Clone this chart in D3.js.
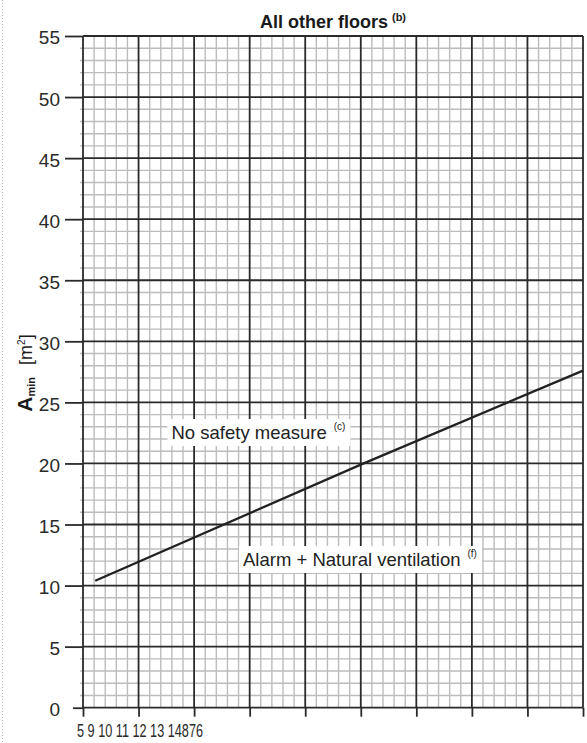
<!DOCTYPE html>
<html>
<head>
<meta charset="utf-8">
<script src="https://cdn.jsdelivr.net/npm/d3@7"></script>
<style>
  body { margin: 0; background: #fff; }
  svg { display: block; }
</style>
</head>
<body>
<div id="drawArea"></div>
<script>
// values
const yTicks = [0, 5, 10, 15, 20, 25, 30, 35, 40, 45, 50, 55];
const xMajor = [0, 5, 10, 15, 20, 25, 30, 35, 40, 45];
const xLabels = ['5', '9', '10', '11', '12', '13', '14876'];
const lineX = [1.1, 25, 45];
const lineY = [10.4, 19.9, 27.6];

const width = 587;
const height = 743;
const margin = { top: 36, left: 83, right: 4, bottom: 35.3 };
const innerW = width - margin.left - margin.right;
const innerH = height - margin.top - margin.bottom;

const svg = d3.select('#drawArea').append('svg')
  .attr('width', width)
  .attr('height', height);

// dotted edge on the left of the scan
svg.append('line')
  .attr('x1', 2.5).attr('x2', 2.5)
  .attr('y1', 0).attr('y2', height)
  .attr('stroke', '#bbb')
  .attr('stroke-dasharray', '1,2');

const g = svg.append('g')
  .attr('transform', `translate(${margin.left}, ${margin.top})`);

const x = d3.scaleLinear().domain([0, 45]).range([0, innerW]);
const y = d3.scaleLinear().domain([0, 55]).range([innerH, 0]);

const minorX = d3.range(0, 46).filter(d => d % 5 !== 0);
const minorY = d3.range(0, 56).filter(d => d % 5 !== 0);

g.append('g').selectAll('line')
  .data(minorX)
  .enter().append('line')
  .attr('x1', d => x(d)).attr('x2', d => x(d))
  .attr('y1', y(55)).attr('y2', y(0))
  .attr('stroke', '#bcbcbc')
  .attr('stroke-width', 1.4);

g.append('g').selectAll('line')
  .data(minorY)
  .enter().append('line')
  .attr('x1', -3).attr('x2', x(45))
  .attr('y1', d => y(d)).attr('y2', d => y(d))
  .attr('stroke', '#bcbcbc')
  .attr('stroke-width', 1.4);

g.append('g').selectAll('line')
  .data(xMajor)
  .enter().append('line')
  .attr('x1', d => x(d)).attr('x2', d => x(d))
  .attr('y1', y(55)).attr('y2', y(0))
  .attr('stroke', '#2a2a2a')
  .attr('stroke-width', 1.8);

g.append('g').selectAll('line')
  .data(yTicks)
  .enter().append('line')
  .attr('x1', 0).attr('x2', x(45))
  .attr('y1', d => y(d)).attr('y2', d => y(d))
  .attr('stroke', '#2a2a2a')
  .attr('stroke-width', 1.8);

// axes: ticks stick out of the grid
const yAxis = g.append('g')
  .call(d3.axisLeft(y).tickValues(yTicks).tickSize(18).tickPadding(5));
yAxis.select('.domain').remove();
yAxis.selectAll('.tick line')
  .attr('stroke', '#2a2a2a')
  .attr('stroke-width', 1.8)
  .attr('x2', d => d === 0 ? -10 : -18);
yAxis.selectAll('.tick text')
  .attr('fill', '#2a2a2a')
  .attr('font-family', '"Liberation Sans Narrow", "Arial Narrow", "Liberation Sans", sans-serif')
  .attr('font-size', 19)
  .attr('dy', '0.42em');

const xAxis = g.append('g')
  .attr('transform', `translate(0, ${innerH})`)
  .call(d3.axisBottom(x).tickValues(xMajor).tickSize(9).tickFormat(''));
xAxis.select('.domain').remove();
xAxis.selectAll('.tick line')
  .attr('stroke', '#2a2a2a')
  .attr('stroke-width', 1.8);

svg.append('text')
  .attr('x', 77)
  .attr('y', 737)
  .attr('textLength', 126)
  .attr('lengthAdjust', 'spacingAndGlyphs')
  .attr('fill', '#2a2a2a')
  .attr('font-family', '"Liberation Sans Narrow", "Arial Narrow", "Liberation Sans", sans-serif')
  .attr('font-size', 18)
  .text(xLabels.join(' '));

// the threshold line
const pts = lineX.map((d, i) => [d, lineY[i]]);
g.append('path')
  .datum(pts)
  .attr('fill', 'none')
  .attr('stroke', '#222')
  .attr('stroke-width', 2.3)
  .attr('d', d3.line().x(d => x(d[0])).y(d => y(d[1])));

// labels with white knock-out boxes
function label(tx, ty, main, sup) {
  const t = svg.append('text')
    .attr('x', tx).attr('y', ty)
    .attr('fill', '#222')
    .attr('font-family', '"Liberation Sans", Arial, sans-serif')
    .attr('font-size', 18.5);
  t.append('tspan').text(main);
  t.append('tspan').attr('font-size', 10).attr('dx', 7).attr('dy', -9).text(sup);
  const bb = t.node().getBBox();
  svg.insert('rect', () => t.node())
    .attr('x', bb.x - 4).attr('y', bb.y - 2)
    .attr('width', bb.width + 9).attr('height', bb.height + 5)
    .attr('fill', '#fff');
}
label(171.5, 439, 'No safety measure', '(c)');
label(243, 566, 'Alarm + Natural ventilation', '(f)');

// title
const title = svg.append('text')
  .attr('x', margin.left + innerW / 2)
  .attr('y', 28)
  .attr('text-anchor', 'middle')
  .attr('fill', '#1a1a1a')
  .attr('font-family', '"Liberation Sans", Arial, sans-serif')
  .attr('font-weight', 'bold')
  .attr('font-size', 18);
title.append('tspan').text('All other floors');
title.append('tspan').attr('font-size', 11).attr('dx', 4).attr('dy', -7).text('(b)');

// y axis title
const yt = svg.append('text')
  .attr('transform', 'translate(32, 373) rotate(-90)')
  .attr('text-anchor', 'middle')
  .attr('fill', '#1a1a1a')
  .attr('font-family', '"Liberation Sans", Arial, sans-serif');
yt.append('tspan').attr('font-weight', 'bold').attr('font-size', 21).text('A');
yt.append('tspan').attr('font-weight', 'bold').attr('font-size', 11).attr('dy', 3).text('min');
yt.append('tspan').attr('font-size', 18).attr('dx', 12).attr('dy', -3).text('[m');
yt.append('tspan').attr('font-size', 10).attr('dy', -7).text('2');
yt.append('tspan').attr('font-size', 18).attr('dy', 7).text(']');
</script>
</body>
</html>
